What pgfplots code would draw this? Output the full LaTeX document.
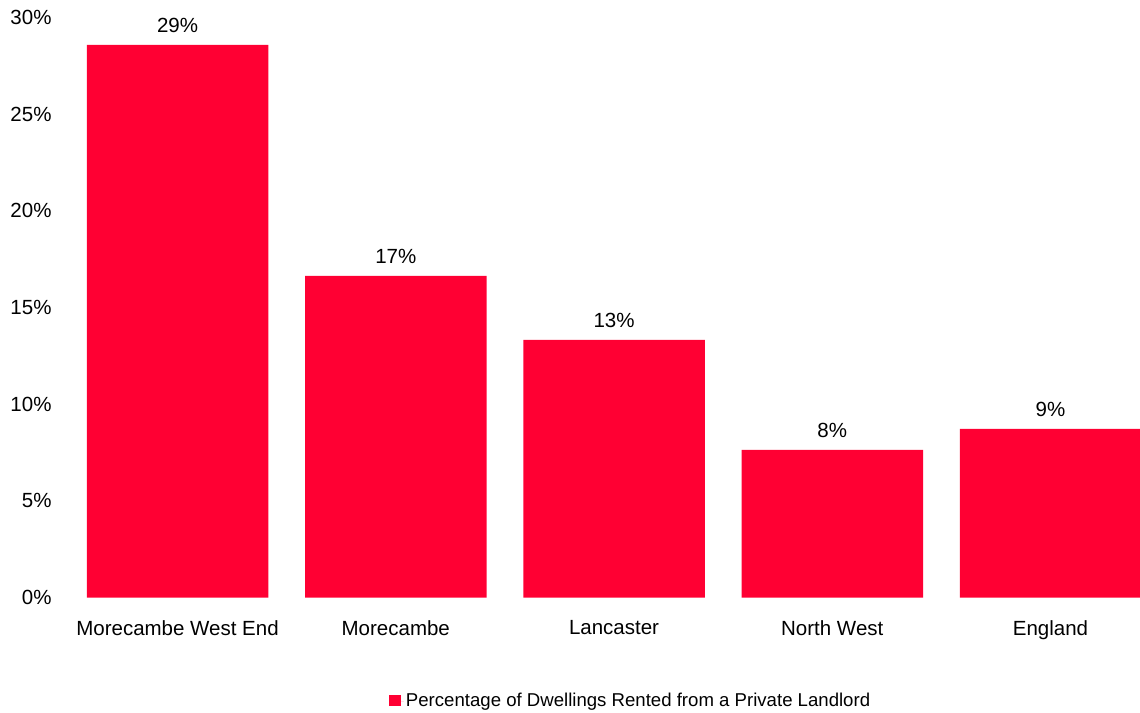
\documentclass[border=0pt]{standalone}
\usepackage{pgfplots}
\pgfplotsset{compat=1.18}
\usepackage{fontspec}
\setmainfont{Liberation Sans}
\definecolor{barred}{HTML}{FF0033}
\begin{document}
\begin{tikzpicture}
\begin{axis}[
  scale only axis,
  width=1072.9pt, height=580pt,
  xmin=-0.5, xmax=4.416,
  ymin=0, ymax=30,
  axis line style={draw=none},
  major tick length=0pt,
  xtick={0,1,2,3,4},
  xticklabels={Morecambe West End,Morecambe,Lancaster,North West,England},
  ytick={0,5,10,15,20,25,30},
  yticklabels={0\%,5\%,10\%,15\%,20\%,25\%,30\%},
  ticklabel style={font=\fontsize{20.5}{24}\selectfont, text=black},
  xticklabel style={inner sep=0pt, anchor=north, yshift=-23pt},
  yticklabel style={inner sep=0pt, anchor=east, xshift=-16.7pt},
  ybar, bar width=181.5pt, bar shift=0pt,
  /pgf/number format/assume math mode=true,
  nodes near coords={\pgfmathprintnumber[fixed,precision=0,assume math mode=true]{\pgfplotspointmeta}\%},
  nodes near coords style={font=\fontsize{20.5}{24}\selectfont, inner sep=0pt, anchor=south, yshift=12.5pt, text=black},
  legend style={at={(0.524,-0.178)}, anchor=center, draw=none, fill=none,
     font=\fontsize{18.6}{22}\selectfont, inner sep=0pt},
  legend image code/.code={\fill[barred] (0pt,-5.5pt) rectangle (12pt,5.5pt); \path (0pt,0pt) rectangle (15pt,0pt);},
  clip=false,
]
\addplot[fill=barred, draw=none] coordinates {(0,28.58) (1,16.63) (2,13.32) (3,7.63) (4,8.72)};
\addlegendentry{Percentage of Dwellings Rented from a Private Landlord}
\coordinate (sw) at (rel axis cs:0,0);
\coordinate (ne) at (rel axis cs:1,1);
\end{axis}
\pgfresetboundingbox
\path ([xshift=-68.4pt, yshift=-114.5pt]sw) rectangle ([xshift=-1.3pt, yshift=17.5pt]ne);
\end{tikzpicture}
\end{document}
